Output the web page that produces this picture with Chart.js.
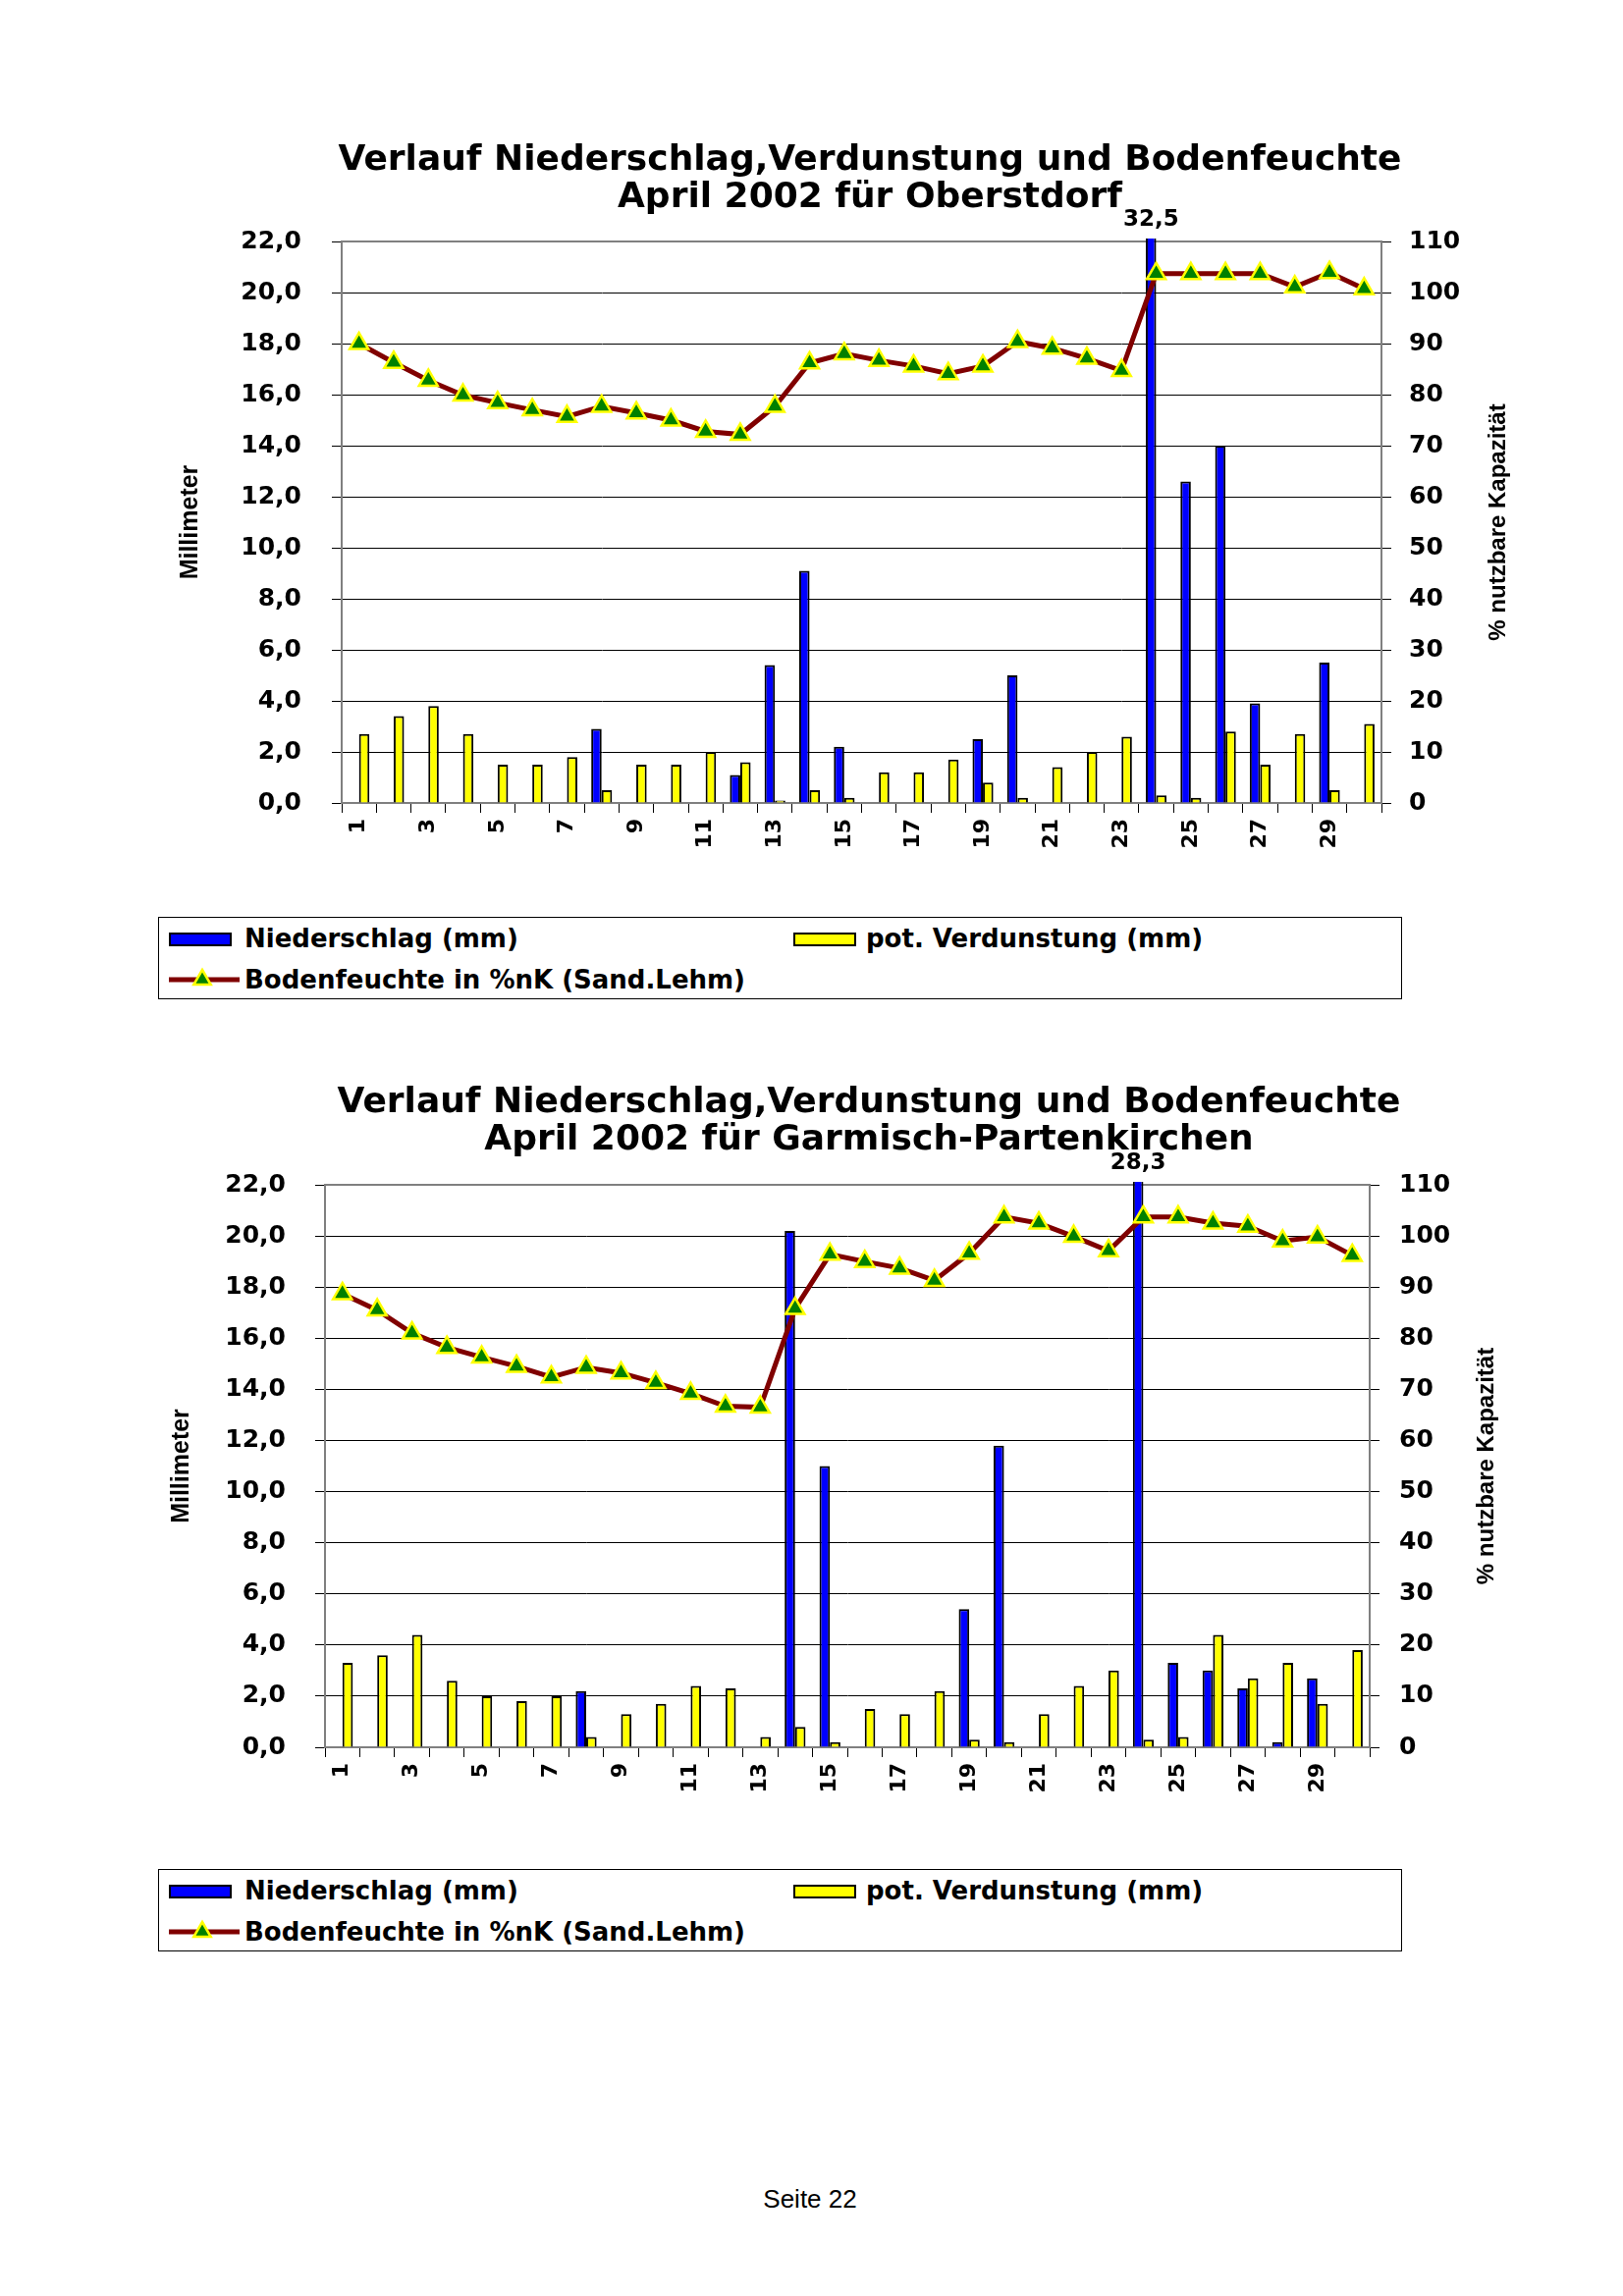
<!DOCTYPE html>
<html>
<head>
<meta charset="utf-8">
<script src="https://cdn.jsdelivr.net/npm/chart.js@4.4.1/dist/chart.umd.min.js"></script>
<style>
html,body{margin:0;padding:0;background:#fff;}
body{width:1653px;height:2339px;position:relative;overflow:hidden;}
canvas{position:absolute;}
.legend{position:absolute;left:161px;width:1267px;border:1px solid #000;box-sizing:border-box;font-family:"DejaVu Sans";font-weight:bold;font-size:26px;color:#000;background:#fff;}
.legend span.t{position:absolute;line-height:30px;white-space:nowrap;}
.legend .sw{position:absolute;width:64px;height:14px;border:2px solid #000;box-sizing:border-box;}
.legend svg{position:absolute;}
#page{position:absolute;top:2225px;left:0;width:1650px;text-align:center;font-family:"Liberation Sans";font-size:26px;color:#000;}
</style>
</head>
<body>
<canvas id="c1" width="1532" height="930" style="left:120px;top:0px;width:1532px;height:930px"></canvas>
<canvas id="c2" width="1532" height="900" style="left:119px;top:1000px;width:1532px;height:900px"></canvas>
<div class="legend" id="legend1" style="top:934px;height:84px;"></div>
<div class="legend" id="legend2" style="top:1904px;height:84px;"></div>
<div id="page">Seite 22</div>
<script>
// ---- data ----
const days = ['1','2','3','4','5','6','7','8','9','10','11','12','13','14','15','16','17','18','19','20','21','22','23','24','25','26','27','28','29','30'];
const seriesNames = ['Niederschlag (mm)', 'pot. Verdunstung (mm)', 'Bodenfeuchte in %nK (Sand.Lehm)'];
const leftAxisTitle = 'Millimeter';
const rightAxisTitle = '% nutzbare Kapazität';
const titleOberstdorf = ['Verlauf Niederschlag,Verdunstung und Bodenfeuchte', 'April 2002 für Oberstdorf'];
const titleGarmisch = ['Verlauf Niederschlag,Verdunstung und Bodenfeuchte', 'April 2002 für Garmisch-Partenkirchen'];

const oberstdorfNiederschlag = [0,0,0,0,0,0,0,2.9,0,0,0,1.1,5.4,9.1,2.2,0,0,0,2.5,5.0,0,0,0,32.5,12.6,14.0,3.9,0,5.5,0];
const oberstdorfVerdunstung = [2.7,3.4,3.8,2.7,1.5,1.5,1.8,0.5,1.5,1.5,2.0,1.6,0.1,0.5,0.2,1.2,1.2,1.7,0.8,0.2,1.4,2.0,2.6,0.3,0.2,2.8,1.5,2.7,0.5,3.1];
const oberstdorfBodenfeuchte = [90.0,86.3,82.8,79.9,78.4,77.0,75.7,77.7,76.4,75.0,72.8,72.2,77.7,86.2,88.0,86.7,85.6,84.1,85.6,90.4,89.1,87.1,84.7,103.7,103.7,103.7,103.7,101.1,103.9,100.7];

const garmischNiederschlag = [0,0,0,0,0,0,0,2.2,0,0,0,0,0,20.2,11.0,0,0,0,5.4,11.8,0,0,0,28.3,3.3,3.0,2.3,0.2,2.7,0];
const garmischVerdunstung = [3.3,3.6,4.4,2.6,2.0,1.8,2.0,0.4,1.3,1.7,2.4,2.3,0.4,0.8,0.2,1.5,1.3,2.2,0.3,0.2,1.3,2.4,3.0,0.3,0.4,4.4,2.7,3.3,1.7,3.8];
const garmischBodenfeuchte = [88.7,85.5,81.0,78.2,76.3,74.5,72.4,74.3,73.2,71.3,69.2,66.7,66.5,85.8,96.4,95.0,93.7,91.3,96.6,103.7,102.5,99.9,97.1,103.7,103.7,102.5,101.9,99.0,99.8,96.2];

const mmMax = 22, mmStep = 2, pctMax = 110, pctStep = 10;
const fmt = v => Number(v).toFixed(1).replace('.', ',');

// ---- plugins ----
const framePlugin = {
  id: 'frame',
  beforeDatasetsDraw(chart) {
    const a = chart.chartArea, ctx = chart.ctx;
    ctx.save();
    ctx.strokeStyle = '#808080';
    ctx.lineWidth = 2;
    ctx.strokeRect(a.left, a.top, a.right - a.left, a.bottom - a.top);
    ctx.restore();
  }
};
const overflowLabelPlugin = {
  id: 'overflowLabel',
  afterDatasetsDraw(chart) {
    const ctx = chart.ctx, a = chart.chartArea;
    const ds = chart.data.datasets[0];
    const meta = chart.getDatasetMeta(0);
    const max = chart.scales.y.max;
    ctx.save();
    ctx.font = 'bold 23px "DejaVu Sans"';
    ctx.fillStyle = '#000';
    ctx.textAlign = 'center';
    ctx.textBaseline = 'middle';
    ds.data.forEach((v, i) => {
      if (v > max) ctx.fillText(fmt(v), meta.data[i].x, a.top - 22);
    });
    ctx.restore();
  }
};
const rightTitlePlugin = {
  id: 'rightTitle',
  afterDraw(chart, args, opts) {
    const ctx = chart.ctx, a = chart.chartArea;
    ctx.save();
    ctx.translate(a.right + opts.offset, (a.top + a.bottom) / 2);
    ctx.rotate(-Math.PI / 2);
    ctx.font = 'bold 24px "Liberation Sans"';
    ctx.fillStyle = '#000';
    ctx.textAlign = 'center';
    ctx.textBaseline = 'middle';
    ctx.fillText(opts.text, 0, 0);
    ctx.restore();
  }
};

function makeChart(id, g) {
  const tickFont = {family: 'DejaVu Sans', weight: 'bold', size: 25};
  return new Chart(document.getElementById(id), {
    type: 'bar',
    data: {
      labels: days,
      datasets: [
        {label: seriesNames[0], data: g.n, backgroundColor: '#0000FF', borderColor: '#000', borderWidth: 2, yAxisID: 'y', order: 1, clip: 3,
         categoryPercentage: 0.6, barPercentage: 1.0},
        {label: seriesNames[1], data: g.v, backgroundColor: '#FFFF00', borderColor: '#000', borderWidth: 2, yAxisID: 'y', order: 1, clip: 3,
         categoryPercentage: 0.6, barPercentage: 1.0},
        {label: seriesNames[2], data: g.b, type: 'line', yAxisID: 'y1', order: 0,
         borderColor: '#800000', borderWidth: 5, tension: 0,
         pointStyle: 'triangle', pointRadius: 11, pointBackgroundColor: '#008000', pointBorderColor: '#FFFF00', pointBorderWidth: 2.5}
      ]
    },
    options: {
      responsive: false,
      animation: false,
      devicePixelRatio: 1,
      layout: {padding: {left: g.padLeft, right: g.padLeft, top: g.padTop, bottom: 0}},
      plugins: {
        legend: {display: false},
        tooltip: {enabled: false},
        title: {display: true, text: g.title, color: '#000',
                font: {family: 'DejaVu Sans', weight: 'bold', size: 36, lineHeight: 38/36},
                padding: {top: g.titlePadTop, bottom: g.titlePadBottom}},
        rightTitle: {text: rightAxisTitle, offset: 119}
      },
      scales: {
        x: {
          offset: true,
          grid: {display: true, drawOnChartArea: false, drawTicks: true, tickLength: 10, color: '#000', offset: true},
          border: {display: true, color: '#808080', width: 2},
          ticks: {autoSkip: false, maxRotation: 90, minRotation: 90, padding: 6, color: '#000',
                  font: {family: 'DejaVu Sans', weight: 'bold', size: 22},
                  callback: (v, i) => (i % 2 === 0 ? days[i] : '')},
          afterFit: s => { s.height = g.xHeight; }
        },
        y: {
          position: 'left', min: 0, max: mmMax,
          ticks: {stepSize: mmStep, padding: g.yPad, color: '#000', font: tickFont, callback: v => fmt(v)},
          grid: {color: '#000', lineWidth: 1, tickLength: 10, drawTicks: true},
          border: {display: true, color: '#808080', width: 2},
          title: {display: true, text: leftAxisTitle, color: '#000',
                  font: {family: 'Liberation Sans', weight: 'bold', size: 25}, padding: {top: 4, bottom: 4}},
          afterFit: s => { s.width = g.yWidth; }
        },
        y1: {
          position: 'right', min: 0, max: pctMax,
          ticks: {stepSize: pctStep, padding: g.y1Pad, color: '#000', font: tickFont},
          grid: {drawOnChartArea: false, color: '#000', tickLength: 10, drawTicks: true},
          border: {display: true, color: '#808080', width: 2},
          afterFit: s => { s.width = g.y1Width; }
        }
      }
    },
    plugins: [framePlugin, overflowLabelPlugin, rightTitlePlugin]
  });
}

makeChart('c1', {
  n: oberstdorfNiederschlag, v: oberstdorfVerdunstung, b: oberstdorfBodenfeuchte, title: titleOberstdorf,
  padLeft: 55, padTop: 132, titlePadTop: 13, titlePadBottom: 25,
  yWidth: 173, yPad: 31, y1Width: 190, y1Pad: 18, xHeight: 112
});
makeChart('c2', {
  n: garmischNiederschlag, v: garmischVerdunstung, b: garmischBodenfeuchte, title: titleGarmisch,
  padLeft: 47, padTop: 91, titlePadTop: 14, titlePadBottom: 26,
  yWidth: 165, yPad: 30, y1Width: 209, y1Pad: 20, xHeight: 120
});

// ---- HTML legends ----
function buildLegend(id) {
  const el = document.getElementById(id);
  const colors = ['#0000FF', '#FFFF00'];
  const xs = [10, 646];
  const txs = [87, 720];
  for (let k = 0; k < 2; k++) {
    const sw = document.createElement('div');
    sw.className = 'sw';
    sw.style.left = xs[k] + 'px'; sw.style.top = '15px'; sw.style.background = colors[k];
    el.appendChild(sw);
    const t = document.createElement('span');
    t.className = 't'; t.textContent = seriesNames[k];
    t.style.left = txs[k] + 'px'; t.style.top = '6px';
    el.appendChild(t);
  }
  const ns = 'http://www.w3.org/2000/svg';
  const svg = document.createElementNS(ns, 'svg');
  svg.setAttribute('width', '74'); svg.setAttribute('height', '26');
  svg.style.left = '9px'; svg.style.top = '50px';
  svg.innerHTML = '<line x1="1" y1="13" x2="73" y2="13" stroke="#800000" stroke-width="5"/>' +
    '<polygon points="35,3 43.7,18 26.3,18" fill="#008000" stroke="#FFFF00" stroke-width="2.5"/>';
  el.appendChild(svg);
  const t = document.createElement('span');
  t.className = 't'; t.textContent = seriesNames[2];
  t.style.left = '87px'; t.style.top = '48px';
  el.appendChild(t);
}
buildLegend('legend1');
buildLegend('legend2');
</script>
</body>
</html>
